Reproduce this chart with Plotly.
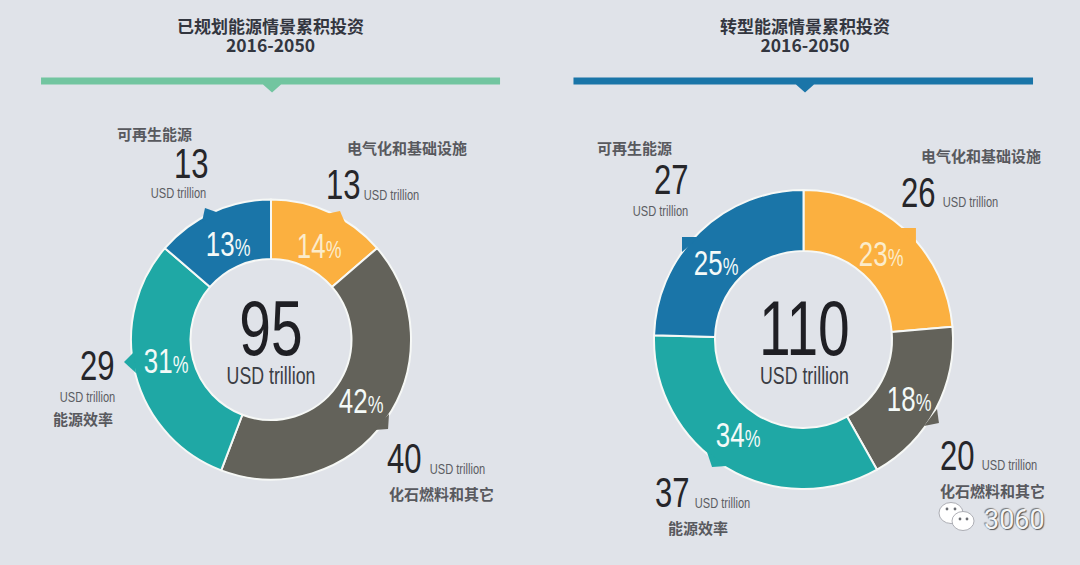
import plotly.graph_objects as go

W, H = 1080, 565
categories = ["电气化和基础设施", "化石燃料和其它", "能源效率", "可再生能源"]
planned_values = [13, 40, 29, 13]
planned_pct = [14, 42, 31, 13]
planned_total = 95
transition_values = [26, 20, 37, 27]
transition_pct = [23, 18, 34, 25]
transition_total = 110
titles = ["已规划能源情景累积投资", "转型能源情景累积投资"]
period = "2016-2050"
unit = "USD trillion"
watermark = "3060"

YELLOW, GRAY, TEAL, BLUE = "#fbb040", "#63625a", "#1fa8a5", "#1a75a8"
colors = [YELLOW, GRAY, TEAL, BLUE]
BG = "#e0e3e9"
NARROW = "Liberation Sans, sans-serif"
CJK = "Noto Sans CJK SC, sans-serif"


def px(x):
    return x / W


def py(y):
    return 1 - y / H


def pie(values, cx, cy, r, hole):
    return go.Pie(
        values=values, labels=categories, sort=False, direction="clockwise", rotation=0,
        hole=hole, textinfo="none", showlegend=False,
        marker=dict(colors=colors, line=dict(color="#f6f8f6", width=2)),
        domain=dict(x=[px(cx - r), px(cx + r)], y=[py(cy + r), py(cy - r)]),
    )


fig = go.Figure([pie(planned_values, 271, 339.5, 140, 0.575),
                 pie(transition_values, 803.5, 339.5, 149.5, 0.592)])

ann = []


def text(x, y, s, size, color="#2a2a2e", font=NARROW, **kw):
    ann.append(dict(x=px(x), y=py(y), xref="paper", yref="paper", text=s, showarrow=False,
                    xanchor="center", yanchor="middle", font=dict(size=size, color=color, family=font, **kw)))


def head(x, y, s):
    text(x, y, "<b>%s</b>" % s, 15, "#58595e", CJK)


def num(x, y, v):
    text(x, y, str(v), 42, "#26262a")


def usd(x, y):
    text(x, y, unit, 15, "#5c5d63")


def pct(x, y, v, col="#f4faf8"):
    text(x, y, '%d<span style="font-size:24px">%%</span>' % v, 35, col)


def total(x, y, v):
    text(x, y, '<span style="font-size:77px">%s</span><br><span style="font-size:24px;fill:#3b3d44">%s</span>' % (v, unit),
         22.5, "#1f1f24")


for x, t in zip((270, 805), titles):
    text(x, 35, '<b><span style="font-size:17px">%s</span><br><span style="font-size:17.5px">%s</span></b>' % (t, period),
         14.5, "#33363f", CJK)

# left donut
head(154, 133, categories[3]); num(191, 163, planned_values[3]); usd(178, 193)
head(407, 147, categories[0]); num(343, 184, planned_values[0]); usd(391, 194)
num(97, 365, planned_values[2]); usd(87, 396); head(83, 418, categories[2])
num(404, 458, planned_values[1]); usd(457, 468); head(441, 493, categories[1])
pct(319, 245, planned_pct[0], "#fbeccb"); pct(361, 400, planned_pct[1]); pct(166, 361, planned_pct[2]); pct(228, 243, planned_pct[3])
total(271, 337, planned_total)

# right donut
head(635, 147, categories[3]); num(671, 179, transition_values[3]); usd(660, 210)
head(981, 155, categories[0]); num(918, 192, transition_values[0]); usd(970, 201)
num(957, 455, transition_values[1]); usd(1009, 464); head(992, 490, categories[1])
num(672, 492, transition_values[2]); usd(722, 502); head(698, 527, categories[2])
pct(881, 253, transition_pct[0], "#fbeccb"); pct(909, 398, transition_pct[1]); pct(738, 434, transition_pct[2]); pct(716, 262, transition_pct[3])
total(804, 337, transition_total)

# watermark
text(1014, 520, watermark, 27, "#f4f5f7", "Roboto, sans-serif", shadow="1px 1px 1px #555, -1px -1px 1px #777")

shapes = []


def poly(points, fill):
    d = "M" + " L".join("%.4f,%.4f" % (px(a), py(b)) for a, b in points) + " Z"
    shapes.append(dict(type="path", path=d, xref="paper", yref="paper", fillcolor=fill, line=dict(width=0), layer="above"))


def circle(cx, cy, rx, ry, fill, line=None):
    shapes.append(dict(type="circle", xref="paper", yref="paper", x0=px(cx - rx), x1=px(cx + rx), y0=py(cy + ry), y1=py(cy - ry),
                       fillcolor=fill, line=dict(width=0.8 if line else 0, color=line or fill), layer="above"))


# header bars
for x0, x1, xm, c in ((41, 500, 272, "#72c5a0"), (573.5, 1033, 805, "#1a75a8")):
    poly([(x0, 77.5), (x1, 77.5), (x1, 84.5), (xm + 9, 84.5), (xm, 92.5), (xm - 9, 84.5), (x0, 84.5)], c)

# callout notches
poly([(205, 208), (202, 222), (219, 213)], BLUE)
poly([(340, 211), (326, 214), (346, 225)], YELLOW)
poly([(124, 362), (134, 352), (136, 373)], TEAL)
poly([(388, 429), (389, 414), (374, 430)], GRAY)
poly([(682, 237), (699, 237), (682, 252)], BLUE)
poly([(916, 228), (899, 228), (916, 244)], YELLOW)
poly([(939, 423), (937, 409), (924, 426)], GRAY)
poly([(712, 467), (707, 452), (727, 466)], TEAL)

# wechat logo
circle(951, 513, 12, 10.5, "#ffffff", "#9a9ca3")
circle(963, 521, 11, 9.5, "#ffffff", "#9a9ca3")
for a, b in ((947, 509), (955, 509), (960, 519), (967, 519)):
    circle(a, b, 1.4, 1.4, "#6b6d73")

fig.update_layout(width=W, height=H, margin=dict(l=0, r=0, t=0, b=0), paper_bgcolor=BG, plot_bgcolor=BG,
                  showlegend=False, annotations=ann, shapes=shapes)

# the reference's numerals use a condensed face: narrow the Liberation Sans annotations horizontally
condense = """
document.body.style.margin='0';document.body.style.background='%s';
document.querySelectorAll('text.annotation-text').forEach(function(el){
  if((el.style.fontFamily||'').indexOf('Liberation')<0) return;
  var b=el.getBBox(), c=b.x+b.width/2;
  el.setAttribute('transform','translate('+c+',0) scale(0.74,1) translate('+(-c)+',0)');
});
""" % BG
fig.write_html("out.html", post_script=condense, config={"displayModeBar": False})
